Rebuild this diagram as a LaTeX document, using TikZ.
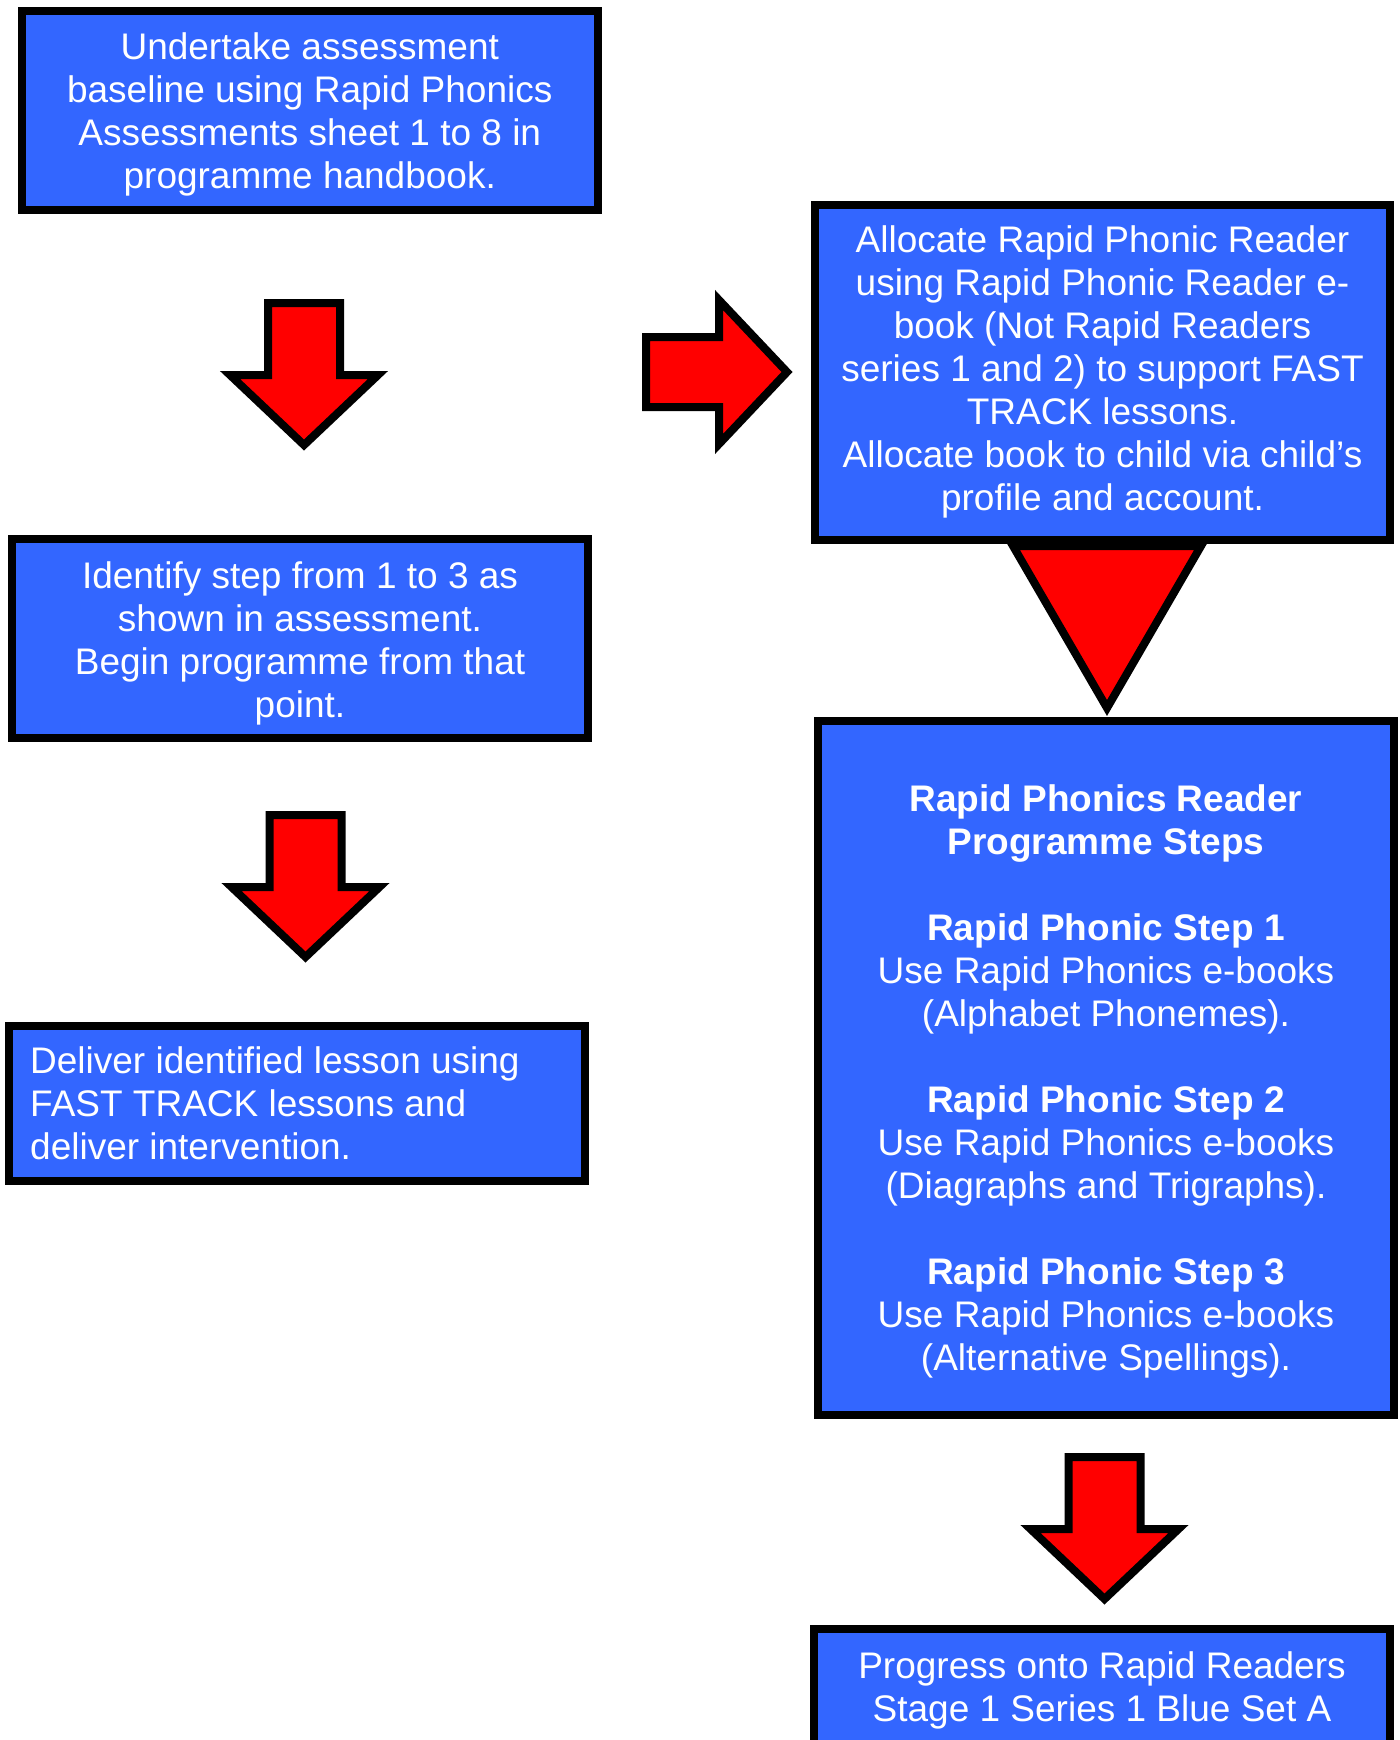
\documentclass[tikz,border=0pt]{standalone}
\usepackage{fontspec}
\setmainfont{Liberation Sans}
\usetikzlibrary{shadows}
\definecolor{boxblue}{RGB}{51,102,255}
\definecolor{arrred}{RGB}{255,0,0}
\tikzset{
  bluebox/.style={draw=black, line width=8pt, fill=boxblue, rectangle, inner sep=0pt, outer sep=0pt},
  boxtext/.style={text=white, font=\fontsize{37}{43}\selectfont, inner sep=0pt},
  blockarrow/.style={draw=black, line width=8pt, fill=arrred, line join=miter, miter limit=10,
    drop shadow={opacity=0.22, shadow xshift=3pt, shadow yshift=-3pt}},
  blocktri/.style={draw=black, line width=8pt, fill=arrred, line join=miter, miter limit=10},
  downarrow/.pic={
    \path[blockarrow] (-36,0) -- (36,0) -- (36,72) -- (74,72) -- (0,142) -- (-74,72) -- (-36,72) -- cycle;
  },
}
\begin{document}
\begin{tikzpicture}[x=1pt,y=-1pt]
\useasboundingbox (0,0) rectangle (1400,1740);
\clip (0,0) rectangle (1400,1740);

% boxes
\node[bluebox, minimum width=576.5pt, minimum height=198.5pt] (b1) at (309.75,110.25) {};
\node[boxtext, align=center] (t1) at (309.75,114)
  {Undertake assessment\\baseline using Rapid Phonics\\Assessments sheet 1 to 8 in\\programme handbook.};

\node[bluebox, boxtext, align=center, minimum width=575pt, minimum height=335pt] (b2) at (1102.5,372)
  {Allocate Rapid Phonic Reader\\using Rapid Phonic Reader e-\\book (Not Rapid Readers\\series 1 and 2) to support FAST\\TRACK lessons.\\Allocate book to child via child’s\\profile and account.};

\node[bluebox, minimum width=576pt, minimum height=199pt] (b4) at (300,638.5) {};
\node[boxtext, align=center] (t4) at (300,643)
  {Identify step from 1 to 3 as\\shown in assessment.\\Begin programme from that\\point.};

\node[bluebox, minimum width=576pt, minimum height=155pt] (b5) at (297,1103.5) {};
\node[boxtext, align=left, anchor=west] (t5) at ([xshift=21pt]b5.west)
  {Deliver identified lesson using\\FAST TRACK lessons and\\deliver intervention.};

\node[bluebox, minimum width=576pt, minimum height=694pt] (b3) at (1106,1068) {};
\node[boxtext, align=center] (t3) at (1106,1081)
  {\textbf{Rapid Phonics Reader}\\\textbf{Programme Steps}\\[43pt]
   \textbf{Rapid Phonic Step 1}\\Use Rapid Phonics e-books\\(Alphabet Phonemes).\\[43pt]
   \textbf{Rapid Phonic Step 2}\\Use Rapid Phonics e-books\\(Diagraphs and Trigraphs).\\[43pt]
   \textbf{Rapid Phonic Step 3}\\Use Rapid Phonics e-books\\(Alternative Spellings).};

\node[bluebox, minimum width=576pt, minimum height=171pt] (b6) at (1102,1714.5) {};
\node[boxtext, align=center] (t6) at (1102,1690)
  {Progress onto Rapid Readers\\Stage 1 Series 1 Blue Set A};

% block arrows
\pic at (304,303) {downarrow};
\pic at (305.5,815) {downarrow};
\pic at (1104.5,1457) {downarrow};
\path[blockarrow] (646,337) -- (719,337) -- (719,300) -- (787,372) -- (719,444) -- (719,407) -- (646,407) -- cycle;
\path[blocktri] (1013,546) -- (1201,546) -- (1107,708) -- cycle;
\end{tikzpicture}
\end{document}
